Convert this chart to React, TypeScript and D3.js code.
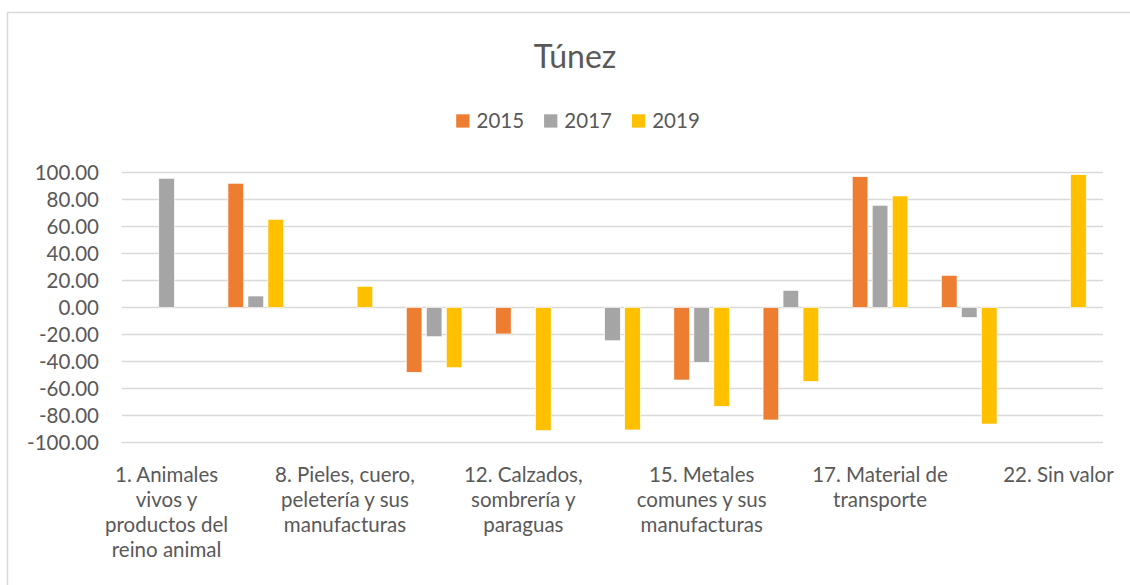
import * as d3 from "d3";

const title = "Túnez";
const categories = [
  "1. Animales vivos y productos del reino animal",
  "6. Productos de las industrias químicas",
  "8. Pieles, cuero, peletería y sus manufacturas",
  "11. Materias textiles y sus manufacturas",
  "12. Calzados, sombrería y paraguas",
  "13. Manufacturas de piedra",
  "15. Metales comunes y sus manufacturas",
  "16. Máquinas y aparatos",
  "17. Material de transporte",
  "20. Mercancías y productos diversos",
  "22. Sin valor",
];
// only every other category label is shown on the axis
const shownLabels = [0, 2, 4, 6, 8, 10];
const series = ["2015", "2017", "2019"];
const values2015 = [null, 92.0, null, -48.0, -19.6, null, -53.7, -83.3, 96.9, 23.8, null];
const values2017 = [95.7, 8.5, null, -21.6, null, -24.6, -40.6, 12.7, 75.7, -7.3, null];
const values2019 = [null, 65.3, 15.7, -44.6, -91.2, -90.7, -73.2, -54.7, 82.6, -86.3, 98.4];
const yTicks = [100, 80, 60, 40, 20, 0, -20, -40, -60, -80, -100];
const colors = ["#ED7D31", "#A5A5A5", "#FFC000"];

const fontFamily = "Lato, 'Open Sans', sans-serif";
const textColor = "#595959";
const gridColor = "#d9d9d9";

function measure(text: string, size: number) {
  const ctx = document.createElement("canvas").getContext("2d")!;
  ctx.font = `${size}px Lato`;
  return ctx.measureText(text).width;
}

function wrap(text: string, size: number, maxWidth: number) {
  const words = text.split(" ");
  const lines: string[] = [];
  let line = "";
  words.forEach((w) => {
    const test = line ? line + " " + w : w;
    if (line && measure(test, size) > maxWidth) {
      lines.push(line);
      line = w;
    } else {
      line = test;
    }
  });
  if (line) lines.push(line);
  return lines;
}

export default function App() {
  const width = 1130;
  const height = 585;
  const left = 122;
  const right = 1103;
  const labelSize = 20.5;

  const allValues = [values2015, values2017, values2019];

  const x0 = d3.scaleBand<string>().domain(categories).range([left, right]);
  const bw = x0.bandwidth();
  const step = bw * 0.2242;
  const x1 = d3
    .scaleBand<string>()
    .domain(series)
    .range([bw / 2 - 1.5 * step, bw / 2 + 1.5 * step])
    .paddingInner(0.22)
    .paddingOuter(0.11);
  const y = d3.scaleLinear().domain([-100, 100]).range([442.5, 172.5]);

  // legend layout
  const box = 13.3;
  const boxGap = 7;
  const itemGap = 20;
  const itemWidths = series.map((s) => box + boxGap + measure(s, labelSize));
  const legendWidth = d3.sum(itemWidths) + itemGap * (series.length - 1);
  let lx = 578 - legendWidth / 2;
  const legendX = itemWidths.map((w) => {
    const pos = lx;
    lx += w + itemGap;
    return pos;
  });

  return (
    <svg
      width={width}
      height={height}
      style={{ position: "absolute", left: 0, top: 0, background: "#fff" }}
      fontFamily={fontFamily}
    >
      <rect x={7.5} y={12.5} width={1140} height={600} fill="#fff" stroke={gridColor} strokeWidth={1.5} />

      <text x={575} y={68} textAnchor="middle" fontSize={32} fill={textColor}>
        {title}
      </text>

      {series.map((s, i) => (
        <g key={s} transform={`translate(${legendX[i]}, 0)`}>
          <rect x={0} y={114.3} width={box} height={box} fill={colors[i]} />
          <text x={box + boxGap} y={128} fontSize={labelSize} fill={textColor}>
            {s}
          </text>
        </g>
      ))}

      {yTicks.map((t) => (
        <g key={t}>
          <line x1={left} x2={right} y1={y(t)} y2={y(t)} stroke={gridColor} strokeWidth={1.3} />
          <text
            x={99}
            y={y(t)}
            dy="0.35em"
            textAnchor="end"
            fontSize={labelSize}
            fill={textColor}
          >
            {t.toFixed(2)}
          </text>
        </g>
      ))}

      {categories.map((c, ci) => (
        <g key={c} transform={`translate(${x0(c)}, 0)`}>
          {allValues.map((vals, si) => {
            const v = vals[ci];
            if (v === null) return null;
            return (
              <rect
                key={si}
                x={x1(series[si])}
                y={y(Math.max(0, v))}
                width={x1.bandwidth()}
                height={Math.abs(y(v) - y(0))}
                fill={colors[si]}
                stroke="#fff"
                strokeWidth={0.6}
              />
            );
          })}
        </g>
      ))}

      {shownLabels.map((ci) => {
        const c = categories[ci];
        const cx = (x0(c) ?? 0) + bw / 2;
        const lines = wrap(c, labelSize, 150);
        return (
          <text key={c} textAnchor="middle" fontSize={labelSize} fill={textColor}>
            {lines.map((l, li) => (
              <tspan key={li} x={cx} y={481.7 + li * 25}>
                {l}
              </tspan>
            ))}
          </text>
        );
      })}
    </svg>
  );
}
